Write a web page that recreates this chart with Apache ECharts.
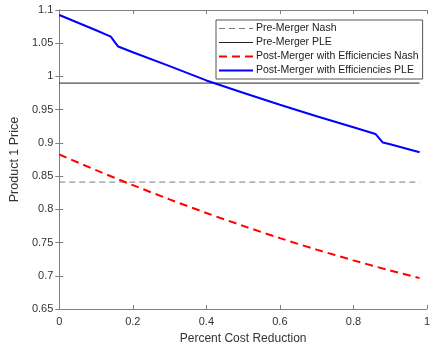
<!DOCTYPE html>
<html>
<head>
<meta charset="utf-8">
<script src="https://cdn.jsdelivr.net/npm/echarts@6/dist/echarts.min.js"></script>
<style>
  html, body { margin: 0; padding: 0; background: #fff; }
  #chart { width: 433px; height: 350px; }
</style>
</head>
<body>
<div id="chart"></div>
<script>
// x positions (percent cost reduction)
var redX = [0, 0.1, 0.2, 0.3, 0.4, 0.5, 0.6, 0.7, 0.8, 0.9, 0.98];
var redY = [0.8825, 0.8589, 0.8364, 0.8149, 0.7945, 0.7751, 0.7567, 0.7394, 0.7232, 0.7080, 0.6965];

var blueX = [0, 0.1, 0.14, 0.16, 0.2, 0.3, 0.4, 0.5, 0.6, 0.7, 0.8, 0.86, 0.88, 0.9, 0.98];
var blueY = [1.0925, 1.0695, 1.060, 1.045, 1.0365, 1.0155, 0.994, 0.9755, 0.9575, 0.940, 0.9235, 0.9135, 0.9005, 0.898, 0.886];

var preNash = 0.841;
var prePLE = 0.990;
var flatX = [0, 0.98];

var names = ['Pre-Merger Nash', 'Pre-Merger PLE',
  'Post-Merger with Efficiencies Nash', 'Post-Merger with Efficiencies PLE'];

function pairs(xs, ys) {
  var out = [];
  for (var i = 0; i < xs.length; i++) out.push([xs[i], ys[i]]);
  return out;
}
function flat(v) {
  return flatX.map(function (x) { return [x, v]; });
}

var chart = echarts.init(document.getElementById('chart'));
var font = '"Liberation Sans", Arial, Helvetica, sans-serif';
var axisCol = '#808080';
var textCol = '#333333';

var option = {
  animation: false,
  backgroundColor: '#fff',
  textStyle: { fontFamily: font },
  grid: { left: 53, right: 1, top: 10, bottom: 40 },
  legend: {
    orient: 'vertical',
    left: 216,
    top: 20,
    itemWidth: 34,
    itemHeight: 10,
    itemGap: 3,
    padding: [3, 4, 3, 2],
    borderColor: '#555',
    borderWidth: 1,
    backgroundColor: '#fff',
    itemStyle: { opacity: 0 },
    textStyle: { fontFamily: font, fontSize: 10.5, color: '#222', padding: [0, 0, 0, -2] },
    data: [
      { name: names[0], lineStyle: { width: 1 } },
      { name: names[1], lineStyle: { width: 1 } },
      { name: names[2], lineStyle: { width: 2 } },
      { name: names[3], lineStyle: { width: 2 } }
    ]
  },
  xAxis: [{
    type: 'value',
    min: 0, max: 1, interval: 0.2,
    name: 'Percent Cost Reduction',
    nameLocation: 'middle',
    nameGap: 24,
    nameTextStyle: { fontFamily: font, fontSize: 12, color: textCol },
    axisLine: { show: true, lineStyle: { color: axisCol, width: 1 } },
    axisTick: { show: true, inside: true, length: 4, lineStyle: { color: axisCol } },
    axisLabel: { color: textCol, fontSize: 11, margin: 7, fontFamily: font },
    splitLine: { show: false }
  }, {
    type: 'value', position: 'top',
    min: 0, max: 1, interval: 0.2,
    axisLine: { show: true, lineStyle: { color: axisCol, width: 1 } },
    axisTick: { show: true, inside: true, length: 4, lineStyle: { color: axisCol } },
    axisLabel: { show: false },
    splitLine: { show: false }
  }],
  yAxis: [{
    type: 'value',
    min: 0.65, max: 1.1, interval: 0.05,
    name: 'Product 1 Price',
    nameLocation: 'middle',
    nameGap: 35,
    nameTextStyle: { fontFamily: font, fontSize: 12.5, color: textCol },
    axisLine: { show: true, lineStyle: { color: axisCol, width: 1 } },
    axisTick: { show: true, inside: true, length: 4, lineStyle: { color: axisCol } },
    axisLabel: { color: textCol, fontSize: 11, margin: 6, fontFamily: font },
    splitLine: { show: false }
  }, {
    type: 'value', position: 'right',
    min: 0.65, max: 1.1, interval: 0.05,
    axisLine: { show: true, lineStyle: { color: axisCol, width: 1 } },
    axisTick: { show: true, inside: true, length: 4, lineStyle: { color: axisCol } },
    axisLabel: { show: false },
    splitLine: { show: false }
  }],
  series: [{
    name: names[0], type: 'line', symbol: 'none',
    data: flat(preNash),
    itemStyle: { color: '#7a7a7a' },
    lineStyle: { color: '#7a7a7a', width: 1, type: [6, 4] }
  }, {
    name: names[1], type: 'line', symbol: 'none',
    data: flat(prePLE),
    itemStyle: { color: '#222' },
    lineStyle: { color: '#222', width: 1, type: 'solid' }
  }, {
    name: names[2], type: 'line', symbol: 'none', smooth: 0.3,
    data: pairs(redX, redY),
    itemStyle: { color: '#ff0000' },
    lineStyle: { color: '#ff0000', width: 2, type: [8, 5] }
  }, {
    name: names[3], type: 'line', symbol: 'none',
    data: pairs(blueX, blueY),
    itemStyle: { color: '#0000ff' },
    lineStyle: { color: '#0000ff', width: 2 }
  }]
};
chart.setOption(option);
</script>
</body>
</html>
